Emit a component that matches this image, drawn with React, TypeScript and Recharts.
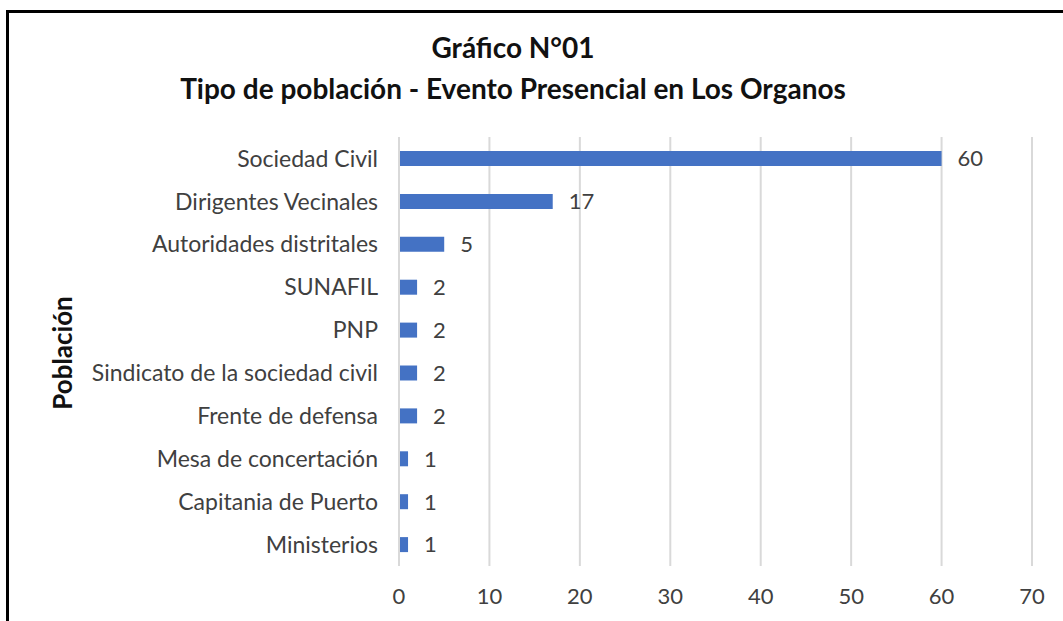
import React from 'react';
import { BarChart, Bar, XAxis, YAxis, CartesianGrid, LabelList } from 'recharts';

const categories = [
  'Sociedad Civil',
  'Dirigentes Vecinales',
  'Autoridades distritales',
  'SUNAFIL',
  'PNP',
  'Sindicato de la sociedad civil',
  'Frente de defensa',
  'Mesa de concertación',
  'Capitania de Puerto',
  'Ministerios',
];
const values = [60, 17, 5, 2, 2, 2, 2, 1, 1, 1];
const xTicks = [0, 10, 20, 30, 40, 50, 60, 70];
const titleLines = ['Gráfico N°01', 'Tipo de población - Evento Presencial en Los Organos'];
const yAxisTitle = 'Población';

const data = categories.map((name, i) => ({ name, value: values[i] }));

const FONT = 'Lato, "Open Sans", sans-serif';

export default function App() {
  return (
    <div style={{ position: 'absolute', left: 0, top: 0, width: 1063, height: 621, background: '#fff', overflow: 'hidden', fontFamily: FONT }}>
      <div style={{ position: 'absolute', left: 6, top: 10, width: 1070, height: 620, borderLeft: '3px solid #000', borderTop: '3px solid #000' }} />
      <div style={{ position: 'absolute', left: 0, width: 1026, top: 27, textAlign: 'center', fontWeight: 700, fontSize: 28, lineHeight: '41px', color: '#111' }}>
        {titleLines.map((t) => (
          <div key={t}>{t}</div>
        ))}
      </div>
      <div style={{ position: 'absolute', left: 62, top: 353, transform: 'translate(-50%, -50%) rotate(-90deg)', fontWeight: 700, fontSize: 26, color: '#111', whiteSpace: 'nowrap' }}>
        {yAxisTitle}
      </div>
      <BarChart
        width={1063}
        height={621}
        data={data}
        layout="vertical"
        margin={{ top: 137, right: 31, bottom: 25, left: 0 }}
        barCategoryGap={0}
      >
        <CartesianGrid horizontal={false} vertical={true} stroke="#D9D9D9" strokeWidth={2} />
        <XAxis
          type="number"
          domain={[0, 70]}
          ticks={xTicks}
          axisLine={false}
          tickLine={false}
          tickSize={0}
          tickMargin={22}
          tick={{ fill: '#404040', fontSize: 22, fontFamily: FONT }}
        />
        <YAxis
          type="category"
          dataKey="name"
          width={399}
          interval={0}
          tickLine={false}
          tickSize={0}
          tickMargin={21}
          axisLine={{ stroke: '#D9D9D9', strokeWidth: 2 }}
          tick={{ fill: '#404040', fontSize: 23, fontFamily: FONT }}
        />
        <Bar dataKey="value" fill="#4472C4" barSize={15} isAnimationActive={false}>
          <LabelList dataKey="value" position="right" offset={16} fill="#404040" fontSize={22} fontFamily={FONT} />
        </Bar>
      </BarChart>
    </div>
  );
}
